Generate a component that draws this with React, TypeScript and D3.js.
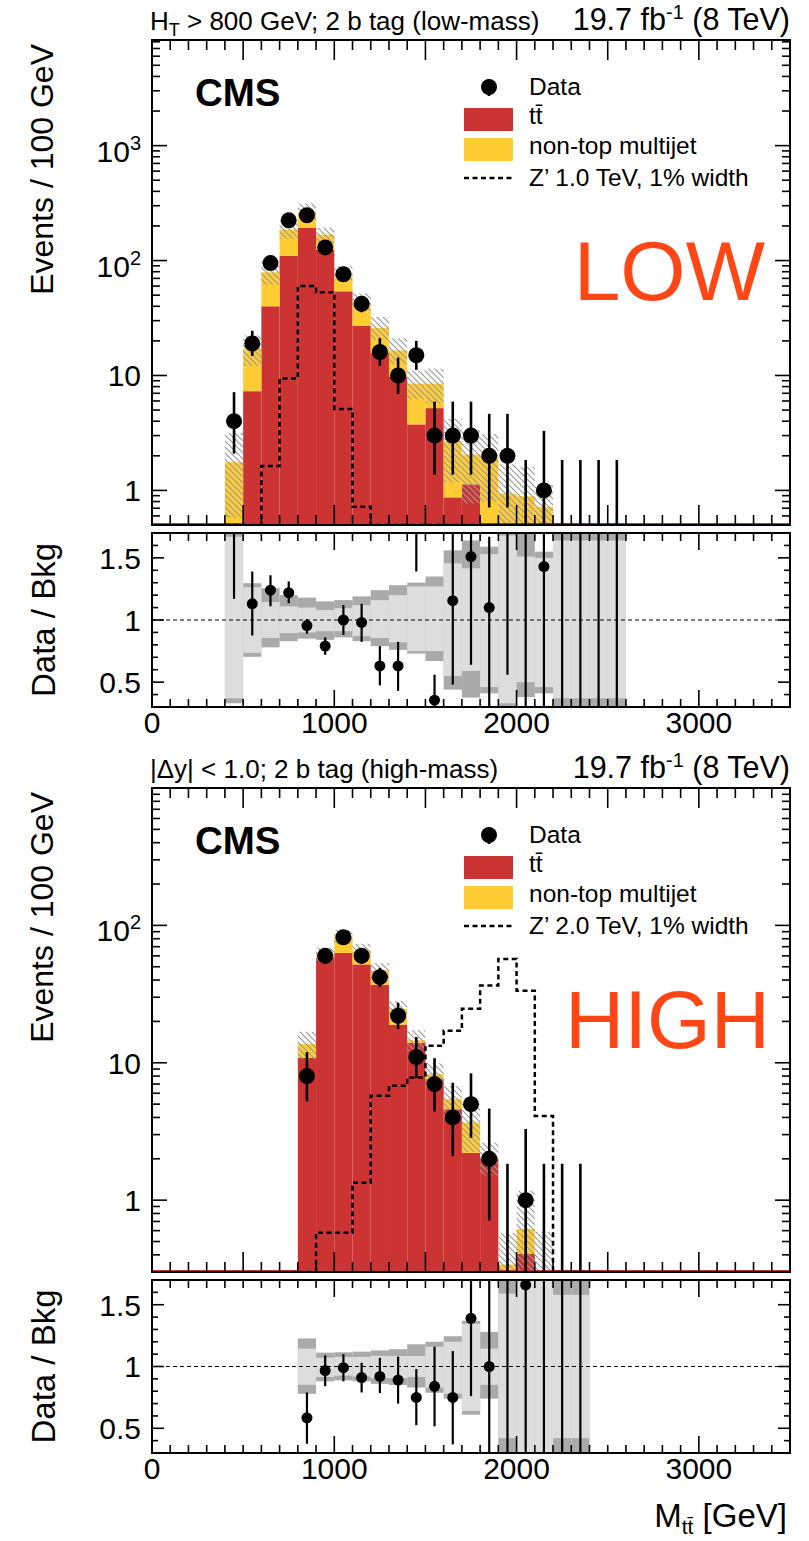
import React from "react";
import * as d3 from "d3";

const FONT = "'Liberation Sans', Arial, Helvetica, sans-serif";
const RED = "#cc3333";
const YELLOW = "#ffcc33";
const BIG = "#ff4614";
const LIGHT = "#dddddd";
const DARK = "#aaaaaa";

// ---------------- top panel (low-mass) ----------------
const topBins = [400, 500, 600, 700, 800, 900, 1000, 1100, 1200, 1300, 1400, 1500, 1600, 1700, 1800, 1900, 2000, 2100, 2200, 2300, 2400, 2500];
const topTTbar = [0.26, 7.3, 40, 110, 193, 124, 54, 27, 15.8, 9.8, 3.75, 5.2, 0.87, 1.13, 0.3, 0.2, 0.25, 0.15, 0.05, 0.05, 0.05, 0.05];
const topMultijet = [1.5, 9.9, 39, 76, 73, 44, 23, 16.5, 10.2, 6.7, 4.75, 3.3, 1.81, 0.92, 1.65, 0.74, 0.64, 0.57, 0.1, 0.1, 0.08, 0.08];
const topZprime = [0, 0, 1.63, 9.4, 60, 53, 5.1, 0.72, 0, 0, 0, 0, 0, 0, 0, 0, 0, 0, 0, 0, 0, 0];
const topData = [4, 19, 95, 224, 248, 130, 76, 42, 16, 10, 15, 3, 3, 3, 2, 2, 0, 1, 0, 0, 0, 0];
const topDataLo = [2.09, 14.8, 85.3, 209, 232.3, 118.6, 67.3, 35.5, 12.1, 6.9, 11.2, 1.37, 1.37, 1.37, 0.71, 0.71, 0, 0.17, 0, 0, 0, 0];
const topDataHi = [7.16, 24.5, 105.3, 239.5, 264.3, 141.9, 85.2, 49, 21.1, 14.3, 20, 5.92, 5.92, 5.92, 4.64, 4.64, 1.84, 3.3, 1.84, 1.84, 1.84, 1.84];
const topRatio = [2.27, 1.13, 1.24, 1.22, 0.955, 0.79, 1.0, 0.98, 0.63, 0.63, 1.76, 0.355, 1.155, 1.51, 1.1, 2.1, null, 1.43, null, null, null, null];
const topRatioLo = [1.17, 0.875, 1.11, 1.135, 0.89, 0.72, 0.88, 0.824, 0.474, 0.43, 1.39, 0.2, 0.48, 0.64, 0.2, 0.56, 0, 0.2, 0, 0, 0, 0];
const topRatioHi = [3, 1.39, 1.36, 1.31, 1.008, 0.86, 1.12, 1.13, 0.79, 0.824, 3, 0.56, 2, 2, 1.67, 3, 3, 3, 3, 3, 3, 3];
const topBandInLo = [0.37, 0.736, 0.856, 0.895, 0.9, 0.91, 0.91, 0.87, 0.855, 0.82, 0.75, 0.75, 0.55, 0.59, 0.46, 0.33, 0.5, 0.46, 0.37, 0.37, 0.37, 0.37];
const topBandInHi = [1.67, 1.264, 1.144, 1.11, 1.1, 1.08, 1.095, 1.12, 1.16, 1.2, 1.27, 1.27, 1.456, 1.416, 1.53, 1.68, 1.51, 1.5, 1.64, 1.64, 1.64, 1.64];
const topBandOutLo = [0.33, 0.704, 0.78, 0.83, 0.85, 0.84, 0.86, 0.83, 0.79, 0.76, 0.73, 0.67, 0.44, 0.376, 0.41, 0.3, 0.38, 0.41, 0.3, 0.3, 0.3, 0.3];
const topBandOutHi = [1.8, 1.296, 1.256, 1.2, 1.18, 1.15, 1.16, 1.19, 1.24, 1.28, 1.3, 1.35, 1.56, 1.64, 1.59, 1.8, 1.8, 1.55, 1.8, 1.8, 1.8, 1.8];
const topYTicks = [1, 10, 100, 1000];

// ---------------- bottom panel (high-mass) ----------------
const botBins = [800, 900, 1000, 1100, 1200, 1300, 1400, 1500, 1600, 1700, 1800, 1900, 2000, 2100, 2200, 2300];
const botTTbar = [10.9, 58, 63, 52, 36.8, 18.9, 14.0, 7.6, 4.59, 2.21, 2.0, 0.31, 0.406, 0.15, 0.05, 0.05];
const botMultijet = [2.8, 4, 20, 13.6, 10.2, 5.8, 0.6, 0.66, 0.84, 1.46, 0.05, 0.03, 0.21, 0.16, 0.05, 0.05];
const botZprime = [0, 0.58, 0.58, 1.34, 5.75, 6.8, 7.8, 13.3, 17.1, 24.7, 36.5, 57, 33.5, 4.1, 0, 0];
const botData = [8, 60, 82, 60, 42, 22, 11, 7, 4, 5, 2, 0, 1, 0, 0, 0];
const botDataLo = [5.23, 52.3, 73.5, 52.3, 35.5, 17.6, 7.74, 4.42, 2.09, 2.84, 0.71, 0, 0.17, 0, 0, 0];
const botDataHi = [11.95, 68.3, 91.6, 68.3, 49, 27.4, 15.4, 10.8, 7.16, 8.38, 4.64, 1.84, 3.3, 1.84, 1.84, 1.84];
const botRatio = [0.585, 0.967, 0.99, 0.91, 0.92, 0.89, 0.75, 0.84, 0.75, 1.39, 1.0, null, 1.66, null, null, null];
const botRatioLo = [0.375, 0.84, 0.88, 0.79, 0.785, 0.7, 0.525, 0.516, 0.37, 0.76, 0.2, 0, 0.2, 0, 0, 0];
const botRatioHi = [0.79, 1.09, 1.1, 1.03, 1.07, 1.08, 0.98, 1.16, 1.125, 2, 2, 3, 3, 3, 3, 3];
const botBandInLo = [0.852, 0.915, 0.926, 0.92, 0.906, 0.906, 0.915, 0.83, 0.78, 0.64, 0.852, 0.42, 0.25, 0.25, 0.42, 0.42];
const botBandInHi = [1.145, 1.071, 1.077, 1.077, 1.086, 1.085, 1.085, 1.16, 1.2, 1.345, 1.145, 1.59, 1.8, 1.8, 1.58, 1.58];
const botBandOutLo = [0.779, 0.88, 0.888, 0.88, 0.86, 0.85, 0.83, 0.787, 0.74, 0.61, 0.74, 0.3, 0.2, 0.2, 0.3, 0.3];
const botBandOutHi = [1.227, 1.112, 1.115, 1.12, 1.13, 1.14, 1.18, 1.2, 1.245, 1.37, 1.28, 1.7, 1.9, 1.9, 1.8, 1.8];
const botYTicks = [1, 10, 100];

const xTickLabels = [0, 1000, 2000, 3000];
const BINW = 100;

type Cfg = {
  id: string;
  mainTop: number; mainBottom: number; ratioTop: number; ratioBottom: number;
  yDomain: [number, number];
  bins: number[]; ttbar: number[]; multijet: number[]; zprime: number[];
  data: number[]; dataLo: number[]; dataHi: number[];
  ratio: (number | null)[]; ratioLo: number[]; ratioHi: number[];
  inLo: number[]; inHi: number[]; outLo: number[]; outHi: number[];
  yTicks: number[];
  header: React.ReactNode; zLabel: string; big: string; bigX: number; bigSize: number;
};

function Panel({ c }: { c: Cfg }) {
  const X0 = 152, X1 = 790;
  const x = d3.scaleLinear().domain([0, 3500]).range([X0, X1]);
  const y = d3.scaleLog().domain(c.yDomain).range([c.mainBottom, c.mainTop]);
  const yr = d3.scaleLinear().domain([0.3, 1.7]).range([c.ratioBottom, c.ratioTop]);
  const ymin = c.yDomain[0];
  const cl = (v: number) => y(Math.max(v, ymin));
  const dy = c.mainTop - 40;

  const rows = c.bins.map((b, i) => ({ bin: b, ttbar: c.ttbar[i], multijet: c.multijet[i] }));
  const series = d3.stack<any>().keys(["ttbar", "multijet"])(rows as any);
  const colors = [RED, YELLOW];

  let zp = `M${x(c.bins[0])},${c.mainBottom}`;
  c.bins.forEach((b, i) => {
    zp += `V${cl(c.zprime[i])}H${x(b + BINW)}`;
  });
  zp += `V${c.mainBottom}`;

  const xt = d3.range(0, 3501, 100);
  const logTicks: { v: number; major: boolean }[] = [];
  for (let e = -2; e <= 4; e++) {
    for (let k = 1; k <= 9; k++) {
      const v = k * Math.pow(10, e);
      if (v >= c.yDomain[0] * 0.999 && v <= c.yDomain[1]) logTicks.push({ v, major: k === 1 });
    }
  }
  const rt = d3.range(3, 18).map((k) => k / 10);

  const tickLine = { stroke: "#000", strokeWidth: 1.6 };
  const mainClip = `${c.id}-mclip`;
  const ratioClip = `${c.id}-rclip`;

  const label = (v: number) => {
    if (v === 1) return "1";
    if (v === 10) return "10";
    const e = Math.round(Math.log10(v));
    return (
      <>
        10<tspan dy={-12} fontSize={20}>{e}</tspan>
      </>
    );
  };

  return (
    <g>
      <defs>
        <clipPath id={mainClip}>
          <rect x={X0} y={c.mainTop} width={X1 - X0} height={c.mainBottom - c.mainTop} />
        </clipPath>
        <clipPath id={ratioClip}>
          <rect x={X0} y={c.ratioTop} width={X1 - X0} height={c.ratioBottom - c.ratioTop} />
        </clipPath>
      </defs>

      {/* header */}
      <text x={X0 - 2} y={c.mainTop - 10} fontFamily={FONT} fontSize={26}>{c.header}</text>
      <text x={X1} y={c.mainTop - 10} fontFamily={FONT} fontSize={30.5} textAnchor="end">
        19.7 fb<tspan dy={-11} fontSize={20}>-1</tspan><tspan dy={11}> (8 TeV)</tspan>
      </text>

      {/* main panel */}
      <g clipPath={`url(#${mainClip})`}>
        {series.map((s, si) =>
          s.map((d: any, i: number) => {
            const top = d[1];
            if (top <= ymin) return null;
            const y0 = cl(d[0]);
            const y1 = y(top);
            return (
              <rect key={`${si}-${i}`} x={x(c.bins[i])} y={y1} width={x(c.bins[i] + BINW) - x(c.bins[i])}
                height={Math.max(0, y0 - y1)} fill={colors[si]} />
            );
          })
        )}
        {c.bins.map((b, i) => {
          const tot = c.ttbar[i] + c.multijet[i];
          const hi = tot * c.outHi[i];
          const lo = tot * c.outLo[i];
          if (hi <= ymin) return null;
          const ya = y(hi), yb = cl(lo);
          return <rect key={`h${i}`} x={x(b)} y={ya} width={x(b + BINW) - x(b)} height={Math.max(0, yb - ya)} fill="url(#hatch)" />;
        })}
        <line x1={X0} x2={X1} y1={c.mainBottom - 1} y2={c.mainBottom - 1} stroke={RED} strokeWidth={2} />
        <path d={zp} fill="none" stroke="#000" strokeWidth={2.5} strokeDasharray="5,3.5" />
        {c.bins.map((b, i) => {
          const cx = x(b + BINW / 2);
          return (
            <g key={`d${i}`}>
              <line x1={cx} x2={cx} y1={y(Math.max(c.dataLo[i], ymin * 0.5))} y2={y(c.dataHi[i])} stroke="#000" strokeWidth={2.6} />
              {c.data[i] > 0 && <circle cx={cx} cy={y(c.data[i])} r={8} fill="#000" />}
            </g>
          );
        })}
      </g>

      {/* main frame & ticks */}
      <rect x={X0} y={c.mainTop} width={X1 - X0} height={c.mainBottom - c.mainTop} fill="none" stroke="#000" strokeWidth={2} />
      {xt.map((v) => {
        const L = v % 500 === 0 ? 20 : 10;
        return (
          <g key={`mx${v}`}>
            <line x1={x(v)} x2={x(v)} y1={c.mainBottom} y2={c.mainBottom - L} {...tickLine} />
            <line x1={x(v)} x2={x(v)} y1={c.mainTop} y2={c.mainTop + L} {...tickLine} />
          </g>
        );
      })}
      {logTicks.map((t, i) => {
        const L = t.major ? 15 : 8;
        return (
          <g key={`ly${i}`}>
            <line x1={X0} x2={X0 + L} y1={y(t.v)} y2={y(t.v)} {...tickLine} />
            <line x1={X1} x2={X1 - L} y1={y(t.v)} y2={y(t.v)} {...tickLine} />
          </g>
        );
      })}
      {c.yTicks.map((v) => (
        <text key={`yl${v}`} x={141} y={y(v) + (v >= 100 ? 16 : 10.8)} fontFamily={FONT} fontSize={30} textAnchor="end">
          {label(v)}
        </text>
      ))}
      <text transform={`translate(53,${c.mainTop + 4}) rotate(-90)`} fontFamily={FONT} fontSize={32} textAnchor="end">
        Events / 100 GeV
      </text>

      {/* CMS + legend */}
      <text x={195} y={106 + dy} fontFamily={FONT} fontSize={38.5} fontWeight="bold">CMS</text>
      <line x1={489} x2={489} y1={79 + dy} y2={96 + dy} stroke="#000" strokeWidth={2.6} />
      <circle cx={489} cy={87 + dy} r={8} fill="#000" />
      <text x={529} y={95 + dy} fontFamily={FONT} fontSize={24.5}>Data</text>
      <rect x={464} y={108 + dy} width={49} height={23} fill={RED} />
      <text x={529} y={124 + dy} fontFamily={FONT} fontSize={24.5}>t{"t\u0304"}</text>
      <rect x={464} y={138 + dy} width={49} height={23} fill={YELLOW} />
      <text x={529} y={154 + dy} fontFamily={FONT} fontSize={24.5}>non-top multijet</text>
      <line x1={464} x2={513} y1={178 + dy} y2={178 + dy} stroke="#000" strokeWidth={2.5} strokeDasharray="5,3.5" />
      <text x={529} y={186 + dy} fontFamily={FONT} fontSize={24.5}>{c.zLabel}</text>
      <text x={c.bigX} y={300 + dy} fontFamily={FONT} fontSize={c.bigSize} fill={BIG} textAnchor="end">{c.big}</text>

      {/* ratio panel */}
      <g clipPath={`url(#${ratioClip})`}>
        {c.bins.map((b, i) => (
          <rect key={`ro${i}`} x={x(b)} y={yr(c.outHi[i])} width={x(b + BINW) - x(b)} height={yr(c.outLo[i]) - yr(c.outHi[i])} fill={DARK} />
        ))}
        {c.bins.map((b, i) => (
          <rect key={`ri${i}`} x={x(b)} y={yr(c.inHi[i])} width={x(b + BINW) - x(b)} height={yr(c.inLo[i]) - yr(c.inHi[i])} fill={LIGHT} />
        ))}
        <line x1={X0} x2={X1} y1={yr(1)} y2={yr(1)} stroke="#000" strokeWidth={1} strokeDasharray="4,3" />
        {c.bins.map((b, i) => {
          const cx = x(b + BINW / 2);
          const r = c.ratio[i];
          return (
            <g key={`rd${i}`}>
              <line x1={cx} x2={cx} y1={yr(c.ratioLo[i])} y2={yr(c.ratioHi[i])} stroke="#000" strokeWidth={2.2} />
              {r !== null && <circle cx={cx} cy={yr(r)} r={5.5} fill="#000" />}
            </g>
          );
        })}
      </g>
      <rect x={X0} y={c.ratioTop} width={X1 - X0} height={c.ratioBottom - c.ratioTop} fill="none" stroke="#000" strokeWidth={2} />
      {xt.map((v) => {
        const L = v % 1000 === 0 ? 17 : 8;
        return (
          <g key={`rx${v}`}>
            <line x1={x(v)} x2={x(v)} y1={c.ratioBottom} y2={c.ratioBottom - L} {...tickLine} />
            <line x1={x(v)} x2={x(v)} y1={c.ratioTop} y2={c.ratioTop + L} {...tickLine} />
          </g>
        );
      })}
      {rt.map((v) => {
        const major = Math.abs((v * 10) % 5) < 1e-6;
        const L = major ? 12 : 6;
        return (
          <g key={`ry${v}`}>
            <line x1={X0} x2={X0 + L} y1={yr(v)} y2={yr(v)} {...tickLine} />
            <line x1={X1} x2={X1 - L} y1={yr(v)} y2={yr(v)} {...tickLine} />
          </g>
        );
      })}
      {[0.5, 1, 1.5].map((v) => (
        <text key={`rl${v}`} x={141} y={yr(v) + 10.8} fontFamily={FONT} fontSize={30} textAnchor="end">{String(v)}</text>
      ))}
      <text transform={`translate(55,${(c.ratioTop + c.ratioBottom) / 2}) rotate(-90)`} fontFamily={FONT} fontSize={33} textAnchor="middle">
        Data / Bkg
      </text>
      {xTickLabels.map((v) => (
        <text key={`xl${v}`} x={x(v)} y={c.ratioBottom + 26} fontFamily={FONT} fontSize={30} textAnchor="middle">{String(v)}</text>
      ))}
    </g>
  );
}

const topCfg: Cfg = {
  id: "top", mainTop: 40, mainBottom: 525, ratioTop: 533, ratioBottom: 707, yDomain: [0.5, 8300],
  bins: topBins, ttbar: topTTbar, multijet: topMultijet, zprime: topZprime,
  data: topData, dataLo: topDataLo, dataHi: topDataHi,
  ratio: topRatio, ratioLo: topRatioLo, ratioHi: topRatioHi,
  inLo: topBandInLo, inHi: topBandInHi, outLo: topBandOutLo, outHi: topBandOutHi,
  yTicks: topYTicks,
  header: (<>H<tspan dy={6} fontSize={18}>T</tspan><tspan dy={-6}> &gt; 800 GeV; 2 b tag (low-mass)</tspan></>),
  zLabel: "Z\u2019 1.0 TeV, 1% width", big: "LOW", bigX: 765, bigSize: 84,
};

const botCfg: Cfg = {
  id: "bot", mainTop: 788, mainBottom: 1272, ratioTop: 1280, ratioBottom: 1453, yDomain: [0.3, 1000],
  bins: botBins, ttbar: botTTbar, multijet: botMultijet, zprime: botZprime,
  data: botData, dataLo: botDataLo, dataHi: botDataHi,
  ratio: botRatio, ratioLo: botRatioLo, ratioHi: botRatioHi,
  inLo: botBandInLo, inHi: botBandInHi, outLo: botBandOutLo, outHi: botBandOutHi,
  yTicks: botYTicks,
  header: "|\u0394y| < 1.0; 2 b tag (high-mass)",
  zLabel: "Z\u2019 2.0 TeV, 1% width", big: "HIGH", bigX: 770, bigSize: 82,
};

export default function App() {
  return (
    <svg width={809} height={1541} viewBox="0 0 809 1541" style={{ position: "absolute", left: 0, top: 0, background: "#fff" }}>
      <defs>
        <pattern id="hatch" patternUnits="userSpaceOnUse" width={6} height={6}>
          <path d="M0,0L6,6M-1,5L1,7M5,-1L7,1" stroke="#9a9a9a" strokeWidth={1.2} />
        </pattern>
      </defs>
      <rect x={0} y={0} width={809} height={1541} fill="#fff" />
      <Panel c={topCfg} />
      <Panel c={botCfg} />
      <text x={787} y={1527} fontFamily={FONT} fontSize={33} textAnchor="end">
        M<tspan dy={7} fontSize={21}>t{"t\u0304"}</tspan><tspan dy={-7}> [GeV]</tspan>
      </text>
    </svg>
  );
}
